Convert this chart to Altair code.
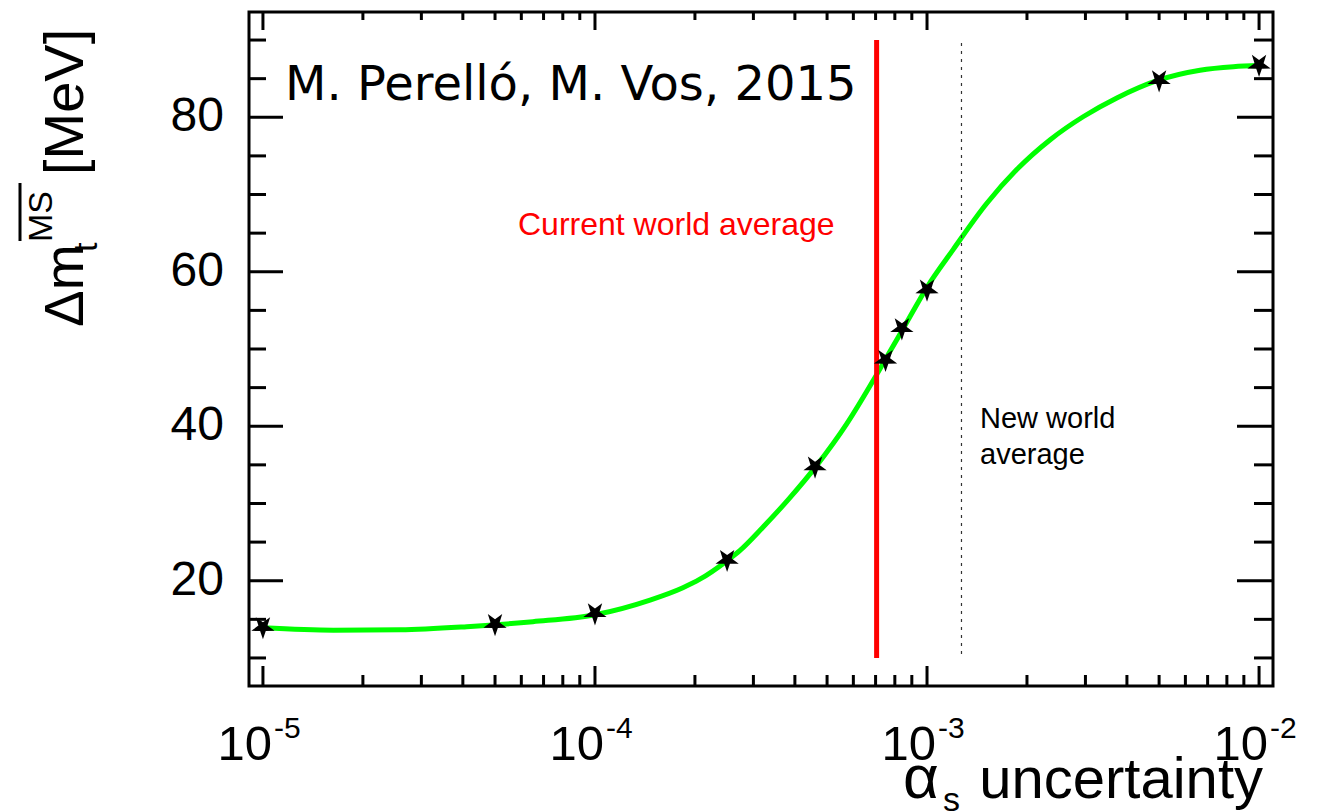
import altair as alt
import pandas as pd

# ---------------- data ----------------
point_x = [1e-5, 5e-5, 1e-4, 2.5e-4, 4.6e-4, 7.5e-4, 8.4e-4, 1e-3, 5e-3, 1e-2]
point_y = [14.0, 14.4, 15.8, 22.7, 34.8, 48.6, 52.7, 57.7, 84.8, 86.8]

curve_x = [1.0e-5, 1.63e-5, 2.59e-5, 4.11e-5, 6.5e-5, 1.0e-4, 1.465e-4, 1.84e-4,
           2.07e-4, 2.5e-4, 2.73e-4, 3.2e-4, 3.82e-4, 4.65e-4, 5.73e-4, 6.97e-4,
           7.74e-4, 8.89e-4, 1.0e-3, 1.2e-3, 1.51e-3, 1.86e-3, 2.35e-3, 2.96e-3,
           3.73e-3, 4.97e-3, 6.64e-3, 8.37e-3, 1.0e-2]
curve_y = [13.9, 13.6, 13.65, 14.05, 14.7, 15.6, 17.5, 19.1,
           20.2, 22.6, 23.9, 26.9, 30.5, 34.9, 40.3, 46.3,
           49.7, 54.2, 58.0, 62.9, 68.8, 73.2, 77.1, 80.1,
           82.5, 84.8, 86.1, 86.55, 86.7]

current_avg_x = [7.05e-4]
current_avg_y = [10.0]
current_avg_y2 = [90.0]
new_avg_x = [1.27e-3]
new_avg_y = [10.5]
new_avg_y2 = [89.8]

y_major = [20, 40, 60, 80]
y_labels = ["20", "40", "60", "80"]
y_minor = [10, 15, 25, 30, 35, 45, 50, 55, 65, 70, 75, 85, 90]
x_major = [1e-5, 1e-4, 1e-3, 1e-2]
x_minor = [m * 10.0 ** e for e in (-5, -4, -3) for m in range(2, 10)]
x_base = ["10", "10", "10", "10"]
x_exps = ["-5", "-4", "-3", "-2"]

W, H = 1024, 674
FONT = "Liberation Sans"

xs = alt.Scale(type="log", domain=[10 ** -5.042, 10 ** -1.958], nice=False)
ys = alt.Scale(domain=[6.37, 93.63], nice=False, zero=False)

STAR = ("M0,1L0.23,0.32L0.951,0.309L0.37,-0.12L0.588,-0.809L0,-0.39"
        "L-0.588,-0.809L-0.37,-0.12L-0.951,0.309L-0.23,0.32Z")

curve_df = pd.DataFrame({"x": curve_x, "y": curve_y})
pts_df = pd.DataFrame({"x": point_x, "y": point_y})
cur_df = pd.DataFrame({"x": current_avg_x, "y": current_avg_y, "y2": current_avg_y2})
new_df = pd.DataFrame({"x": new_avg_x, "y": new_avg_y, "y2": new_avg_y2})
xmaj_df = pd.DataFrame({"x": x_major, "ten": x_base, "exp": x_exps})
xmin_df = pd.DataFrame({"x": x_minor})
ymaj_df = pd.DataFrame({"y": y_major, "lab": y_labels})
ymin_df = pd.DataFrame({"y": y_minor})
one = alt.Data(values=[{}])

X = lambda f: alt.X(f, scale=xs, axis=None, title=None)
Y = lambda f: alt.Y(f, scale=ys, axis=None, title=None)

curve = alt.Chart(curve_df).mark_line(
    color="#00ff00", strokeWidth=5, interpolate="monotone"
).encode(x=X("x:Q"), y=Y("y:Q"))

red = alt.Chart(cur_df).mark_rule(color="#ff0000", strokeWidth=5).encode(
    x=X("x:Q"), y=Y("y:Q"), y2="y2:Q")
dotted = alt.Chart(new_df).mark_rule(color="#333333", strokeWidth=1.2,
                                     strokeDash=[3, 5]).encode(
    x=X("x:Q"), y=Y("y:Q"), y2="y2:Q")

points = alt.Chart(pts_df).mark_point(shape=STAR, filled=True, color="black",
                                       size=600, opacity=1).encode(
    x=X("x:Q"), y=Y("y:Q"))

TK = dict(color="black", strokeWidth=3, strokeCap="butt")
ticks = [
    alt.Chart(xmaj_df).mark_rule(**TK).encode(x=X("x:Q"), y=alt.value(H), y2=alt.value(H - 20)),
    alt.Chart(xmin_df).mark_rule(**TK).encode(x=X("x:Q"), y=alt.value(H), y2=alt.value(H - 11)),
    alt.Chart(xmaj_df).mark_rule(**TK).encode(x=X("x:Q"), y=alt.value(0), y2=alt.value(18)),
    alt.Chart(xmin_df).mark_rule(**TK).encode(x=X("x:Q"), y=alt.value(0), y2=alt.value(8)),
    alt.Chart(ymaj_df).mark_rule(**TK).encode(y=Y("y:Q"), x=alt.value(0), x2=alt.value(34)),
    alt.Chart(ymin_df).mark_rule(**TK).encode(y=Y("y:Q"), x=alt.value(0), x2=alt.value(17)),
    alt.Chart(ymaj_df).mark_rule(**TK).encode(y=Y("y:Q"), x=alt.value(W), x2=alt.value(W - 36)),
    alt.Chart(ymin_df).mark_rule(**TK).encode(y=Y("y:Q"), x=alt.value(W), x2=alt.value(W - 19)),
]

ylab = alt.Chart(ymaj_df).mark_text(
    font=FONT, fontSize=48, align="right", baseline="middle", color="black"
).encode(y=Y("y:Q"), x=alt.value(-25), text="lab:N")

xlab_base = alt.Chart(xmaj_df).mark_text(
    font=FONT, fontSize=49, align="right", baseline="alphabetic", dx=9, color="black"
).encode(x=X("x:Q"), y=alt.value(748), text="ten:N")
xlab_exp = alt.Chart(xmaj_df).mark_text(
    font=FONT, fontSize=30, align="left", baseline="alphabetic", dx=11, color="black"
).encode(x=X("x:Q"), y=alt.value(726), text="exp:N")


def txt(s, x, y, **kw):
    return alt.Chart(one).mark_text(text=s, **kw).encode(x=alt.value(x), y=alt.value(y))


texts = [
    txt("M. Perelló, M. Vos, 2015", 36, 88, font="DejaVu Sans", fontSize=48,
        align="left", baseline="alphabetic", color="black"),
    txt("Current world average", 269, 223, font=FONT, fontSize=32,
        align="left", baseline="alphabetic", color="#ff0000"),
    txt("New world", 731, 416, font=FONT, fontSize=29,
        align="left", baseline="alphabetic", color="black"),
    txt("average", 731, 452, font=FONT, fontSize=29,
        align="left", baseline="alphabetic", color="black"),
    # x title
    txt("α", 654, 786, font=FONT, fontSize=62, align="left",
        baseline="alphabetic", color="black"),
    txt("s", 694, 799, font=FONT, fontSize=34, align="left",
        baseline="alphabetic", color="black"),
    txt("uncertainty", 1014, 786, font=FONT, fontSize=58, align="right",
        baseline="alphabetic", color="black"),
    # y title (rotated)
    txt("Δm", -166, 315, font=FONT, fontSize=55, angle=270, align="left",
        baseline="alphabetic", color="black"),
    txt("t", -152, 240, font=FONT, fontSize=34, angle=270, align="left",
        baseline="alphabetic", color="black"),
    txt("MS", -197, 230, font=FONT, fontSize=34, angle=270, align="left",
        baseline="alphabetic", color="black"),
    txt("[MeV]", -166, 163, font=FONT, fontSize=56, angle=270, align="left",
        baseline="alphabetic", color="black"),
]
overline = alt.Chart(one).mark_rule(color="black", strokeWidth=3, strokeCap="butt").encode(
    x=alt.value(-229), y=alt.value(171), y2=alt.value(229))

chart = alt.layer(
    curve, red, dotted, points, *ticks, ylab, xlab_base, xlab_exp, *texts, overline
).properties(
    width=W, height=H,
    padding={"left": 249, "top": 12, "right": 50, "bottom": 126},
    autosize=alt.AutoSizeParams(type="none"),
    background="white",
).configure_view(stroke="black", strokeWidth=3).configure_axis(grid=False)

chart.save("out.html", embed_options={"renderer": "svg", "actions": False})
